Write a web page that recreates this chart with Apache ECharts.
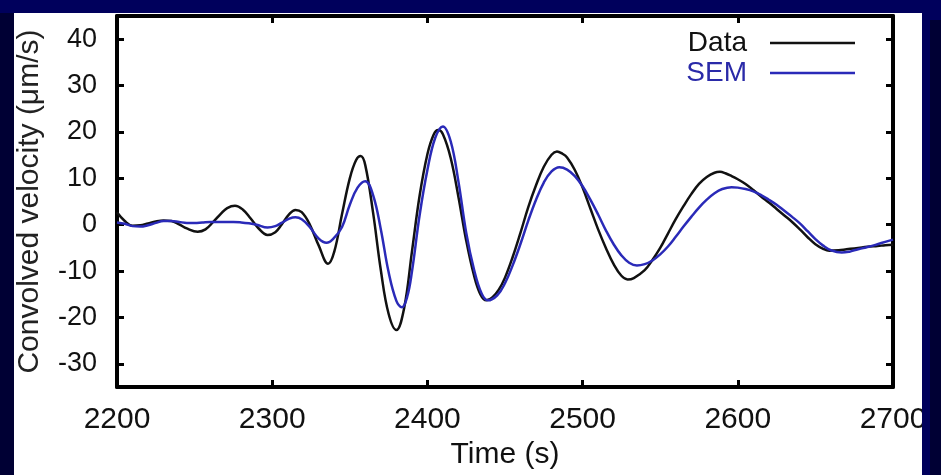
<!DOCTYPE html>
<html>
<head>
<meta charset="utf-8">
<title>Convolved velocity</title>
<script src="https://cdn.jsdelivr.net/npm/echarts@6/dist/echarts.min.js"></script>
<style>
  html, body { margin: 0; padding: 0; background: #00005c; }
  #chart { width: 941px; height: 475px; }
</style>
</head>
<body>
<div id="chart"></div>
<script>
// observed trace (Data): time (s) and velocity (µm/s)
var dataTimes = [
  2200, 2205, 2210, 2215, 2220, 2225, 2230, 2235, 2240, 2245,
  2252, 2257, 2262, 2267, 2271, 2276, 2281, 2286, 2291, 2297,
  2302, 2306, 2311, 2315, 2319, 2324, 2330, 2336, 2340, 2345,
  2350, 2354, 2357, 2360, 2365, 2370, 2375, 2380, 2385, 2390,
  2395, 2400, 2404, 2407, 2410, 2415, 2420, 2425, 2430, 2434,
  2438, 2442, 2446, 2450, 2455, 2460, 2465, 2470, 2475, 2480,
  2483.5, 2487, 2490, 2495, 2500, 2505, 2510, 2515, 2520, 2525,
  2529, 2533, 2540, 2545, 2550, 2555, 2560, 2565, 2570, 2575,
  2580, 2585, 2588.5, 2592, 2596, 2600, 2605, 2610, 2615, 2620,
  2625, 2630, 2635, 2640, 2645, 2650, 2655, 2659, 2665, 2670,
  2675, 2680, 2685, 2690, 2695, 2700
]
var dataVel = [
  2.7, 0.8, -0.2, -0.1, 0.3, 0.7, 0.9, 0.8, 0.1, -0.8,
  -1.5, -1.0, 0.6, 2.4, 3.6, 4.1, 3.3, 1.4, -0.7, -2.2,
  -1.6, 0.0, 2.3, 3.2, 2.7, 0.2, -4.5, -8.4, -5.8, 2.3,
  10.0, 13.9, 14.8, 12.8, 2.6, -9.8, -19.2, -22.7, -18.0, -5.9,
  6.3, 15.2, 19.4, 20.4, 19.5, 14.4, 6.0, -3.4, -10.9, -14.9,
  -16.3, -15.6, -14.0, -11.4, -6.9, -1.7, 3.8, 8.5, 12.5, 15.1,
  15.8, 15.3, 14.5, 11.8, 8.0, 3.5, -1.0, -5.0, -8.5, -11.0,
  -11.8, -11.5, -9.8, -7.6, -5.0, -1.9, 1.2, 4.0, 6.6, 8.8,
  10.3, 11.2, 11.4, 11.1, 10.5, 9.8, 8.8, 7.5, 6.1, 4.8,
  3.4, 2.0, 0.6, -1.0, -2.7, -4.2, -5.2, -5.6, -5.5, -5.3,
  -5.1, -4.9, -4.7, -4.6, -4.4, -4.3
]

// synthetic trace (SEM): time (s) and velocity (µm/s)
var semTimes = [
  2200, 2205, 2210, 2215, 2220, 2225, 2230, 2235, 2240, 2245,
  2250, 2255, 2260, 2265, 2270, 2275, 2280, 2285, 2290, 2297,
  2302, 2306, 2311, 2315, 2319, 2324, 2330, 2335, 2340, 2345,
  2350, 2355, 2360, 2365, 2370, 2375, 2380, 2383.6, 2387, 2390,
  2395, 2400, 2405, 2410, 2415, 2420, 2425, 2430, 2435, 2439,
  2445, 2450, 2455, 2460, 2465, 2470, 2475, 2480, 2485, 2490,
  2495, 2500, 2505, 2510, 2515, 2520, 2525, 2530, 2535, 2540,
  2545, 2550, 2555, 2560, 2565, 2570, 2575, 2580, 2585, 2590,
  2596, 2600, 2605, 2610, 2615, 2620, 2625, 2630, 2635, 2640,
  2645, 2650, 2655, 2660, 2667, 2672, 2675, 2680, 2685, 2690,
  2695, 2700
]
var semVel = [
  0.5, 0.2, -0.3, -0.4, -0.1, 0.4, 0.8, 0.8, 0.6, 0.4,
  0.4, 0.5, 0.6, 0.6, 0.6, 0.6, 0.5, 0.3, 0.0, -0.6,
  -0.3, 0.4, 1.3, 1.6, 1.2, -0.4, -3.0, -3.9, -2.8, -0.5,
  4.3, 8.0, 9.4, 6.4, -1.0, -10.2, -16.4, -17.8, -15.5, -10.2,
  2.1, 11.8, 18.7, 21.2, 18.0, 9.3, -1.7, -9.6, -14.9, -16.3,
  -15.2, -12.6, -8.7, -4.1, 0.9, 5.4, 9.1, 11.5, 12.4, 11.9,
  10.5, 8.3, 5.4, 2.2, -1.2, -4.2, -6.6, -8.2, -8.8, -8.5,
  -7.7, -6.4, -4.7, -2.6, -0.4, 1.7, 3.7, 5.4, 6.8, 7.7,
  8.1, 8.0, 7.7, 7.2, 6.4, 5.4, 4.3, 3.0, 1.7, 0.3,
  -1.4, -3.1, -4.5, -5.5, -6.0, -5.8, -5.5, -5.1, -4.7, -4.2,
  -3.7, -3.2
]

var yTicks = [-30, -20, -10, 0, 10, 20, 30, 40]

var font = 'Liberation Sans, Arial, Helvetica, sans-serif'

function pairs(ts, vals) {
  return ts.map(function (t, i) { return [t, vals[i]] })
}

var chart = echarts.init(document.getElementById('chart'))

var frameLine = { show: true, onZero: false, lineStyle: { color: '#000', width: 4 } }
var frameTick = { inside: true, length: 7, lineStyle: { color: '#000', width: 3 } }

chart.setOption({
  backgroundColor: '#00005c',
  animation: false,
  graphic: [
    // white slide panel
    { type: 'rect', z: -10, shape: { x: 14, y: 13, width: 908, height: 462 }, style: { fill: '#fff' } },
    // dark side strips
    { type: 'rect', z: -10, shape: { x: 0, y: 13, width: 14, height: 462 }, style: { fill: '#000034' } },
    { type: 'rect', z: 100, shape: { x: 922, y: 0, width: 19, height: 475 }, style: { fill: '#00005c' } },
    { type: 'rect', z: 101, shape: { x: 930, y: 20, width: 11, height: 455 }, style: { fill: '#000034' } }
  ],
  grid: {
    left: 117,
    right: 48,
    top: 16,
    bottom: 85
  },
  legend: {
    orient: 'vertical',
    right: 86,
    top: 29,
    padding: 0,
    align: 'right',
    icon: 'rect',
    itemWidth: 85,
    itemHeight: 2.5,
    itemGap: 2,
    textStyle: { fontFamily: font, fontSize: 28, lineHeight: 28, padding: [0, 18, 0, 0] },
    data: [
      { name: 'Data', textStyle: { color: '#111' } },
      { name: 'SEM', textStyle: { color: '#2a2aa8' } }
    ]
  },
  xAxis: [{
    type: 'value',
    min: 2200,
    max: 2700,
    interval: 100,
    name: 'Time (s)',
    nameLocation: 'middle',
    nameGap: 50,
    nameTextStyle: { fontFamily: font, fontSize: 30, color: '#111' },
    axisLine: frameLine,
    axisTick: frameTick,
    axisLabel: {
      fontFamily: font, fontSize: 30, color: '#111', margin: 18,
      formatter: function (v) { return String(v) }
    },
    splitLine: { show: false }
  }, {
    type: 'value',
    position: 'top',
    min: 2200,
    max: 2700,
    interval: 100,
    axisLine: frameLine,
    axisTick: frameTick,
    axisLabel: { show: false },
    splitLine: { show: false }
  }],
  yAxis: [{
    type: 'value',
    min: -35,
    max: 45,
    name: 'Convolved velocity (\u03bcm/s)',
    nameLocation: 'middle',
    nameRotate: 90,
    nameGap: 72,
    nameTextStyle: { fontFamily: font, fontSize: 30, color: '#222' },
    axisLine: frameLine,
    axisTick: { inside: true, length: 7, customValues: yTicks, lineStyle: { color: '#000', width: 3 } },
    axisLabel: { fontFamily: font, fontSize: 27, color: '#111', margin: 20, customValues: yTicks },
    splitLine: { show: false }
  }, {
    type: 'value',
    position: 'right',
    min: -35,
    max: 45,
    axisLine: frameLine,
    axisTick: { inside: true, length: 7, customValues: yTicks, lineStyle: { color: '#000', width: 3 } },
    axisLabel: { show: false },
    splitLine: { show: false }
  }],
  series: [
    {
      name: 'Data',
      type: 'line',
      data: pairs(dataTimes, dataVel),
      smooth: 0.4,
      symbol: 'none',
      lineStyle: { color: '#111', width: 2.5 },
      itemStyle: { color: '#111' },
      z: 3
    },
    {
      name: 'SEM',
      type: 'line',
      data: pairs(semTimes, semVel),
      smooth: 0.4,
      symbol: 'none',
      lineStyle: { color: '#2a2ab8', width: 2.5 },
      itemStyle: { color: '#2a2ab8' },
      z: 4
    }
  ]
})
</script>
</body>
</html>
